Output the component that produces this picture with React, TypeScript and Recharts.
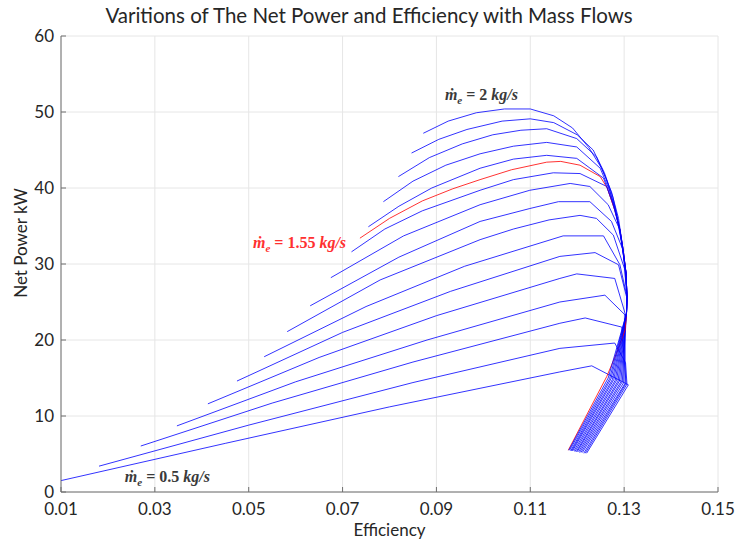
import React from 'react';
import { LineChart, Line, XAxis, YAxis, CartesianGrid, ReferenceDot } from 'recharts';

type Pt = [number, number];

// [efficiency, net power kW] along each exhaust mass flow curve
const flow050: Pt[] = [[0.0100, 1.5], [0.0450, 6.4], [0.0800, 11.2], [0.1163, 15.8], [0.1231, 16.6], [0.1309, 14.1], [0.1220, 5.1]];
const flow060: Pt[] = [[0.0181, 3.4], [0.0500, 8.8], [0.0850, 14.4], [0.1163, 18.9], [0.1280, 19.6], [0.1303, 17.0], [0.1306, 14.2], [0.1217, 5.1]];
const flow070: Pt[] = [[0.0270, 6.05], [0.0550, 11.7], [0.0850, 17.1], [0.1163, 22.2], [0.1217, 22.9], [0.1295, 21.7], [0.1304, 14.3], [0.1214, 5.1]];
const flow080: Pt[] = [[0.0347, 8.7], [0.0600, 14.5], [0.0880, 20.0], [0.1163, 25.0], [0.1259, 25.9], [0.1302, 23.3], [0.1302, 14.3], [0.1211, 5.2]];
const flow090: Pt[] = [[0.0413, 11.6], [0.0650, 17.7], [0.0900, 23.2], [0.1163, 28.1], [0.1199, 28.7], [0.1280, 28.1], [0.1302, 23.5], [0.1299, 14.4], [0.1208, 5.2]];
const flow100: Pt[] = [[0.0475, 14.6], [0.0700, 21.0], [0.0930, 26.4], [0.1163, 31.0], [0.1238, 31.5], [0.1288, 29.9], [0.1305, 25.7], [0.1305, 23.5], [0.1296, 14.5], [0.1205, 5.2]];
const flow110: Pt[] = [[0.0533, 17.8], [0.0750, 24.4], [0.0960, 29.7], [0.1170, 33.7], [0.1256, 33.7], [0.1291, 29.9], [0.1306, 25.7], [0.1305, 23.5], [0.1293, 14.5], [0.1203, 5.3]];
const flow120: Pt[] = [[0.0582, 21.1], [0.0780, 27.9], [0.0993, 33.2], [0.1064, 34.6], [0.1140, 35.8], [0.1206, 36.4], [0.1241, 36.0], [0.1277, 33.8], [0.1304, 28.8], [0.1306, 25.7], [0.1305, 23.5], [0.1290, 14.6], [0.1200, 5.3]];
const flow130: Pt[] = [[0.0631, 24.5], [0.0820, 30.9], [0.0993, 35.6], [0.1099, 37.3], [0.1160, 38.2], [0.1227, 38.2], [0.1273, 35.6], [0.1298, 31.8], [0.1306, 25.7], [0.1305, 23.5], [0.1287, 14.6], [0.1198, 5.3]];
const flow140: Pt[] = [[0.0675, 28.2], [0.0830, 33.7], [0.0993, 37.8], [0.1099, 39.7], [0.1185, 40.6], [0.1227, 40.2], [0.1266, 37.8], [0.1291, 34.5], [0.1304, 28.8], [0.1306, 25.7], [0.1305, 23.5], [0.1284, 14.7], [0.1195, 5.3]];
const flow150: Pt[] = [[0.0719, 31.6], [0.0790, 34.6], [0.0870, 37.0], [0.0993, 39.7], [0.1064, 41.1], [0.1149, 42.0], [0.1206, 41.9], [0.1263, 40.2], [0.1280, 37.1], [0.1291, 34.5], [0.1298, 31.8], [0.1304, 28.8], [0.1306, 25.7], [0.1305, 23.5], [0.1281, 14.7], [0.1193, 5.4]];
const flow155: Pt[] = [[0.0737, 33.4], [0.0800, 36.0], [0.0870, 38.3], [0.0935, 39.9], [0.0993, 41.1], [0.1060, 42.4], [0.1135, 43.4], [0.1165, 43.5], [0.1206, 43.0], [0.1249, 41.5], [0.1264, 40.0], [0.1280, 37.1], [0.1291, 34.5], [0.1298, 31.8], [0.1304, 28.8], [0.1306, 25.7], [0.1305, 23.5], [0.1302, 21.3], [0.1284, 18.3], [0.1263, 15.2], [0.1181, 5.5]];
const flow160: Pt[] = [[0.0755, 34.9], [0.0820, 37.6], [0.0890, 40.0], [0.0993, 42.6], [0.1064, 43.8], [0.1135, 44.3], [0.1199, 43.9], [0.1256, 41.3], [0.1276, 38.0], [0.1291, 34.5], [0.1298, 31.8], [0.1304, 28.8], [0.1306, 25.7], [0.1305, 23.5], [0.1278, 14.8], [0.1190, 5.4]];
const flow170: Pt[] = [[0.0787, 38.2], [0.0850, 40.9], [0.0920, 43.0], [0.0993, 44.5], [0.1064, 45.5], [0.1135, 46.0], [0.1199, 45.4], [0.1249, 42.6], [0.1268, 39.8], [0.1284, 36.5], [0.1296, 32.5], [0.1304, 28.8], [0.1306, 25.7], [0.1305, 23.5], [0.1275, 14.8], [0.1188, 5.4]];
const flow180: Pt[] = [[0.0819, 41.5], [0.0885, 44.0], [0.0955, 45.8], [0.1020, 47.0], [0.1080, 47.6], [0.1135, 47.8], [0.1199, 46.5], [0.1241, 44.1], [0.1262, 41.2], [0.1280, 37.5], [0.1294, 33.0], [0.1304, 28.8], [0.1306, 25.7], [0.1305, 23.5], [0.1272, 14.9], [0.1186, 5.4]];
const flow190: Pt[] = [[0.0847, 44.6], [0.0905, 46.4], [0.0965, 47.7], [0.1040, 48.8], [0.1100, 49.1], [0.1150, 48.6], [0.1200, 47.0], [0.1234, 45.0], [0.1258, 42.0], [0.1276, 38.8], [0.1290, 34.8], [0.1300, 30.5], [0.1306, 25.7], [0.1305, 23.5], [0.1269, 14.9], [0.1184, 5.5]];
const flow200: Pt[] = [[0.0872, 47.2], [0.0925, 48.8], [0.0985, 49.9], [0.1045, 50.4], [0.1100, 50.4], [0.1150, 49.5], [0.1190, 47.9], [0.1225, 45.3], [0.1252, 42.6], [0.1273, 39.5], [0.1288, 36.0], [0.1298, 31.8], [0.1304, 28.8], [0.1306, 25.7], [0.1305, 23.5], [0.1266, 15.0], [0.1182, 5.5]];

const xTicks = [0.01, 0.03, 0.05, 0.07, 0.09, 0.11, 0.13, 0.15];
const yTicks = [0, 10, 20, 30, 40, 50, 60];

const BLUE = '#0000ff';
const RED = '#ff0000';
const INK = '#262626';
const FONT = 'Lato, "Open Sans", sans-serif';
const MATH_FONT = '"Liberation Serif", "DejaVu Serif", serif';

// red marks the highlighted 1.55 kg/s case; drawn mid-stack so the upper curves overlap it
const curves = [
  { id: 'm050', pts: flow050, color: BLUE },
  { id: 'm060', pts: flow060, color: BLUE },
  { id: 'm070', pts: flow070, color: BLUE },
  { id: 'm080', pts: flow080, color: BLUE },
  { id: 'm090', pts: flow090, color: BLUE },
  { id: 'm100', pts: flow100, color: BLUE },
  { id: 'm110', pts: flow110, color: BLUE },
  { id: 'm120', pts: flow120, color: BLUE },
  { id: 'm130', pts: flow130, color: BLUE },
  { id: 'm140', pts: flow140, color: BLUE },
  { id: 'm150', pts: flow150, color: BLUE },
  { id: 'm155', pts: flow155, color: RED },
  { id: 'm160', pts: flow160, color: BLUE },
  { id: 'm170', pts: flow170, color: BLUE },
  { id: 'm180', pts: flow180, color: BLUE },
  { id: 'm190', pts: flow190, color: BLUE },
  { id: 'm200', pts: flow200, color: BLUE },
];

function FlowLabel({ viewBox, value, color }: { viewBox?: any; value: string; color: string }) {
  if (!viewBox) return null;
  return (
    <text x={viewBox.x} y={viewBox.y} dy={5} fill={color} fontFamily={MATH_FONT} fontSize={16} fontWeight={600}>
      <tspan fontStyle="italic">ṁ</tspan>
      <tspan fontStyle="italic" fontSize={11} dy={4}>e</tspan>
      <tspan dy={-4}>{` = ${value} `}</tspan>
      <tspan fontStyle="italic">kg/s</tspan>
    </text>
  );
}

function PowerAxisTitle({ viewBox }: { viewBox?: any }) {
  if (!viewBox) return null;
  const cx = viewBox.x + 20;
  const cy = viewBox.y + viewBox.height / 2 - 21;
  return (
    <text x={cx} y={cy} transform={`rotate(-90, ${cx}, ${cy})`} textAnchor="middle" dominantBaseline="central"
      fill={INK} fontSize={17} fontFamily={FONT}>
      Net Power kW
    </text>
  );
}

export default function App() {
  return (
    <div style={{ position: 'absolute', left: 0, top: 0, width: 745, height: 541, background: '#fff', fontFamily: FONT }}>
      <div style={{ position: 'absolute', left: 0, top: 3, width: 738, textAlign: 'center', fontSize: 20.5, color: INK }}>
        Varitions of The Net Power and Efficiency with Mass Flows
      </div>
      <LineChart width={745} height={541} margin={{ top: 36, right: 27, left: 0, bottom: 0 }}>
        <CartesianGrid stroke="#e6e6e6" strokeWidth={1} />
        <XAxis
          dataKey="x"
          type="number"
          domain={[0.01, 0.15]}
          ticks={xTicks}
          allowDataOverflow
          height={49}
          tickFormatter={(v: number) => v.toFixed(2)}
          stroke="#6e6e6e"
          tick={{ fill: INK, fontSize: 17, fontFamily: FONT }}
          tickSize={-5}
          tickMargin={16}
          label={{ value: 'Efficiency', position: 'insideBottom', offset: 5, fill: INK, fontSize: 17, fontFamily: FONT }}
        />
        <YAxis
          type="number"
          domain={[0, 60]}
          ticks={yTicks}
          allowDataOverflow
          width={61}
          stroke="#6e6e6e"
          tick={{ fill: INK, fontSize: 17, fontFamily: FONT }}
          tickSize={-5}
          tickMargin={12}
          label={(p: any) => <PowerAxisTitle viewBox={p.viewBox} />}
        />
        {curves.map((c) => (
          <Line
            key={c.id}
            data={c.pts.map(([x, y]) => ({ x, y }))}
            dataKey="y"
            type="linear"
            stroke={c.color}
            strokeOpacity={0.8}
            strokeWidth={1}
            dot={false}
            activeDot={false}
            isAnimationActive={false}
          />
        ))}
        <ReferenceDot x={0.0918} y={52.2} r={0} fill="none" stroke="none" ifOverflow="visible"
          label={(p: any) => <FlowLabel viewBox={p.viewBox} value="2" color="#3a3a3a" />} />
        <ReferenceDot x={0.0509} y={32.8} r={0} fill="none" stroke="none" ifOverflow="visible"
          label={(p: any) => <FlowLabel viewBox={p.viewBox} value="1.55" color="#ff3030" />} />
        <ReferenceDot x={0.0236} y={2.0} r={0} fill="none" stroke="none" ifOverflow="visible"
          label={(p: any) => <FlowLabel viewBox={p.viewBox} value="0.5" color="#3a3a3a" />} />
      </LineChart>
    </div>
  );
}
